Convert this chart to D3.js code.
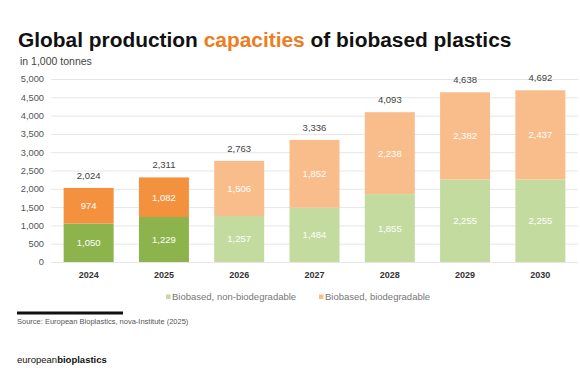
<!DOCTYPE html>
<html>
<head>
<meta charset="utf-8">
<script src="https://cdn.jsdelivr.net/npm/d3@7"></script>
<style>
  body { margin: 0; background: #fff; }
  svg { display: block; font-family: "Liberation Sans", Arial, Helvetica, sans-serif; }
</style>
</head>
<body>
<div id="chart_container"></div>
<script>
// data
var years = ["2024", "2025", "2026", "2027", "2028", "2029", "2030"];
var nonBiodegradable = [1050, 1229, 1257, 1484, 1855, 2255, 2255];
var biodegradable = [974, 1082, 1506, 1852, 2238, 2382, 2437];
var totals = [2024, 2311, 2763, 3336, 4093, 4638, 4692];
var yTicks = [0, 500, 1000, 1500, 2000, 2500, 3000, 3500, 4000, 4500, 5000];
var seriesNames = ["Biobased, non-biodegradable", "Biobased, biodegradable"];

// first two years are "actual" (darker), the rest are forecast (lighter)
var greenDark = "#8db34d", greenLight = "#c4dba0";
var orangeDark = "#f4913f", orangeLight = "#f9bd8c";

var width = 580, height = 370;
var margin = {top: 79, right: 2, bottom: 108, left: 51};

var svg = d3.select("#chart_container").append("svg")
            .attr("width", width)
            .attr("height", height);

var x = d3.scaleBand()
          .domain(years)
          .range([margin.left, width - margin.right])
          .paddingInner(0.336)
          .paddingOuter(0.168);

var y = d3.scaleLinear()
          .domain([0, 5000])
          .range([height - margin.bottom, margin.top]);

// title
var title = svg.append("text")
    .attr("x", 18)
    .attr("y", 46.5)
    .style("font-size", "20.9px")
    .style("font-weight", "bold")
    .style("fill", "#111");
title.append("tspan").text("Global production ");
title.append("tspan").style("fill", "#ec7d22").text("capacities");
title.append("tspan").text(" of biobased plastics");

svg.append("text")
    .attr("x", 20)
    .attr("y", 65)
    .style("font-size", "10.5px")
    .style("fill", "#444")
    .text("in 1,000 tonnes");

// y axis: gridlines + labels
var yAxis = d3.axisLeft(y)
    .tickValues(yTicks)
    .tickSize(-(width - margin.left - 2))
    .tickPadding(7)
    .tickFormat(d3.format(","));

var gy = svg.append("g")
    .attr("transform", "translate(" + margin.left + ",0)")
    .call(yAxis);
gy.select(".domain").remove();
gy.selectAll(".tick line").style("stroke", "#e6e6e6").style("stroke-width", 1);
gy.selectAll(".tick text")
    .style("font-size", "9.3px")
    .style("fill", "#555")
    .attr("font-family", null);

// x axis labels
var xAxis = d3.axisBottom(x).tickSize(0).tickPadding(10);
var gx = svg.append("g")
    .attr("transform", "translate(0," + y(0) + ")")
    .call(xAxis);
gx.select(".domain").remove();
gx.selectAll(".tick text")
    .style("font-size", "9px")
    .style("font-weight", "bold")
    .style("fill", "#333")
    .attr("font-family", null);

// stacked bars
var rows = years.map(function(yr, i){
    return {year: yr, a: nonBiodegradable[i], b: biodegradable[i], total: totals[i], actual: i < 2};
});

var bars = svg.selectAll(".bar")
    .data(rows)
    .enter()
    .append("g")
    .attr("class", "bar");

bars.append("rect")
    .attr("x", function(d){ return x(d.year); })
    .attr("width", x.bandwidth())
    .attr("y", function(d){ return y(d.a); })
    .attr("height", function(d){ return y(0) - y(d.a); })
    .style("fill", function(d){ return d.actual ? greenDark : greenLight; });

bars.append("rect")
    .attr("x", function(d){ return x(d.year); })
    .attr("width", x.bandwidth())
    .attr("y", function(d){ return y(d.a + d.b); })
    .attr("height", function(d){ return y(d.a) - y(d.a + d.b); })
    .style("fill", function(d){ return d.actual ? orangeDark : orangeLight; });

var fmt = d3.format(",");

// values inside the segments
bars.append("text")
    .attr("x", function(d){ return x(d.year) + x.bandwidth() / 2; })
    .attr("y", function(d){ return y(d.a / 2) + 3.5; })
    .attr("text-anchor", "middle")
    .style("font-size", "9.5px")
    .style("fill", "#fff")
    .text(function(d){ return fmt(d.a); });

bars.append("text")
    .attr("x", function(d){ return x(d.year) + x.bandwidth() / 2; })
    .attr("y", function(d){ return y(d.a + d.b / 2) + 3.5; })
    .attr("text-anchor", "middle")
    .style("font-size", "9.5px")
    .style("fill", "#fff")
    .text(function(d){ return fmt(d.b); });

// totals on top
bars.append("text")
    .attr("x", function(d){ return x(d.year) + x.bandwidth() / 2; })
    .attr("y", function(d){ return y(d.total) - 9; })
    .attr("text-anchor", "middle")
    .style("font-size", "9.5px")
    .style("fill", "#444")
    .text(function(d){ return fmt(d.total); });

// legend
var legendData = [
    {name: seriesNames[0], color: greenLight, x: 166},
    {name: seriesNames[1], color: orangeLight, x: 319}
];
var legend = svg.selectAll(".legenditem")
    .data(legendData)
    .enter()
    .append("g")
    .attr("class", "legenditem")
    .attr("transform", function(d){ return "translate(" + d.x + ",296.5)"; });
legend.append("rect")
    .attr("x", 0).attr("y", -2)
    .attr("width", 4.5).attr("height", 4.5)
    .style("fill", function(d){ return d.color; });
legend.append("text")
    .attr("x", 6)
    .attr("y", 3.3)
    .style("font-size", "9.5px")
    .style("fill", "#777")
    .text(function(d){ return d.name; });

// footer
svg.append("rect")
    .attr("x", 17).attr("y", 311.5)
    .attr("width", 106).attr("height", 3)
    .style("fill", "#111");

svg.append("text")
    .attr("x", 17)
    .attr("y", 324)
    .style("font-size", "7.5px")
    .style("fill", "#555")
    .text("Source: European Bioplastics, nova-Institute (2025)");

var brand = svg.append("text")
    .attr("x", 17)
    .attr("y", 363)
    .style("font-size", "9.5px")
    .style("fill", "#111");
brand.append("tspan").text("european");
brand.append("tspan").style("font-weight", "bold").text("bioplastics");
</script>
</body>
</html>
